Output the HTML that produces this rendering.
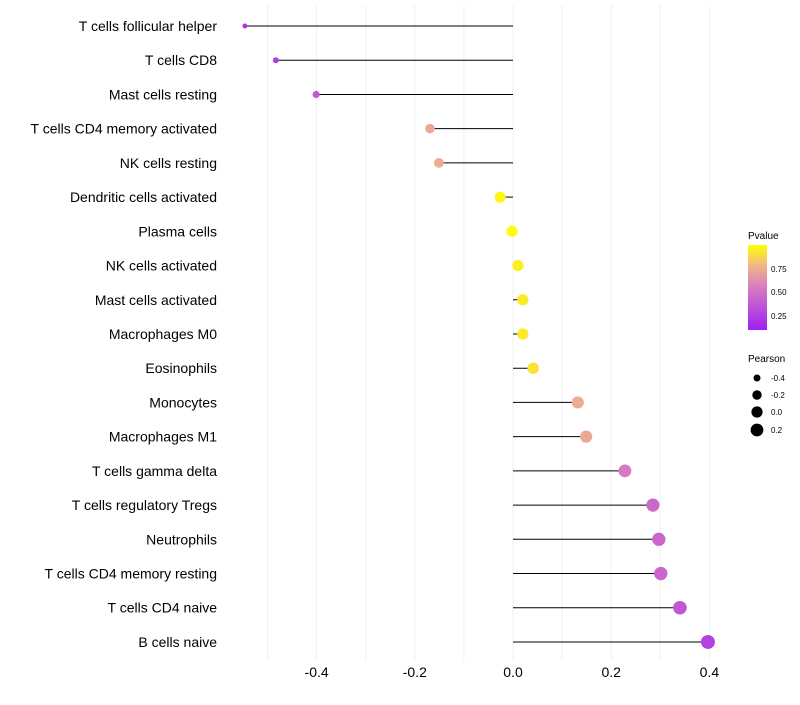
<!DOCTYPE html>
<html><head><meta charset="utf-8"><style>
body{margin:0;background:#fff;font-family:"Liberation Sans",sans-serif}
</style></head><body>
<svg id="chart" width="800" height="700" xmlns="http://www.w3.org/2000/svg" font-family="Liberation Sans, sans-serif">
<defs><linearGradient id="pg" x1="0" y1="1" x2="0" y2="0">
<stop offset="0" stop-color="#a020f0"/><stop offset="0.5" stop-color="#d67bc0"/><stop offset="0.75" stop-color="#f0b48a"/><stop offset="1" stop-color="#ffff00"/></linearGradient></defs>
<g id="grid"></g><g id="marks"></g><g id="labels"></g>
<g>
<text x="748" y="239" font-size="10">Pvalue</text>
<rect x="748" y="245" width="19" height="85" fill="url(#pg)"/>
<text x="771" y="272" font-size="8">0.75</text>
<text x="771" y="295" font-size="8">0.50</text>
<text x="771" y="319" font-size="8">0.25</text>
</g>
<g>
<text x="748" y="362" font-size="10">Pearson</text>
<circle cx="757" cy="378" r="3.5"/><text x="771" y="381" font-size="8">-0.4</text>
<circle cx="757" cy="395" r="4.7"/><text x="771" y="398" font-size="8">-0.2</text>
<circle cx="757" cy="412" r="5.6"/><text x="771" y="415" font-size="8">0.0</text>
<circle cx="757" cy="430" r="6.4"/><text x="771" y="433" font-size="8">0.2</text>
</g>
</svg>
<script>
const categories=["T cells follicular helper","T cells CD8","Mast cells resting","T cells CD4 memory activated","NK cells resting","Dendritic cells activated","Plasma cells","NK cells activated","Mast cells activated","Macrophages M0","Eosinophils","Monocytes","Macrophages M1","T cells gamma delta","T cells regulatory  Tregs","Neutrophils","T cells CD4 memory resting","T cells CD4 naive","B cells naive"];
const pearson=[-0.546,-0.483,-0.401,-0.169,-0.151,-0.026,-0.002,0.010,0.020,0.020,0.041,0.132,0.149,0.228,0.285,0.297,0.301,0.340,0.397];
const pvalue=[0.1,0.15,0.3,0.7,0.72,0.97,0.99,0.95,0.93,0.93,0.9,0.72,0.7,0.5,0.4,0.38,0.38,0.3,0.18];
const ticks=[-0.4,-0.2,0.0,0.2,0.4];
const NS="http://www.w3.org/2000/svg";
const x=v=>513+v*491;
const y=i=>26+i*34.22;
const r=v=>Math.sqrt(Math.max(1.5,30.8+45.5*v));
function col(p){const s=[[0,[160,32,240]],[0.5,[214,123,192]],[0.75,[240,180,138]],[1,[255,255,0]]];
for(let k=1;k<s.length;k++){if(p<=s[k][0]){const t=(p-s[k-1][0])/(s[k][0]-s[k-1][0]);const c=s[k-1][1].map((a,j)=>Math.round(a+(s[k][1][j]-a)*t));return `rgb(${c})`;}}return "rgb(255,255,0)";}
function mk(t,a,p){const e=document.createElementNS(NS,t);for(const k in a)e.setAttribute(k,a[k]);p.appendChild(e);return e;}
const G=document.getElementById('grid'),M=document.getElementById('marks'),L=document.getElementById('labels');
for(let v=-0.5;v<=0.45;v+=0.1){const g=mk('line',{x1:x(v),x2:x(v),y1:5,y2:660,stroke:'#f0f0f0','stroke-width':1},G);

}
ticks.forEach(t=>{const e=mk('text',{x:x(t),y:677,'font-size':14,'text-anchor':'middle',fill:'#000'},L);e.textContent=t.toFixed(1);

});
categories.forEach((c,i)=>{
const t=mk('text',{x:217,y:y(i)+5,'font-size':14,'text-anchor':'end',fill:'#000'},L);t.textContent=c;


const l=mk('line',{x1:x(0),x2:x(pearson[i]),y1:y(i),y2:y(i),stroke:'#000','stroke-width':1},M);


const d=mk('circle',{cx:x(pearson[i]),cy:y(i),r:r(pearson[i]),fill:col(pvalue[i])},M);


});
</script>
</body></html>
